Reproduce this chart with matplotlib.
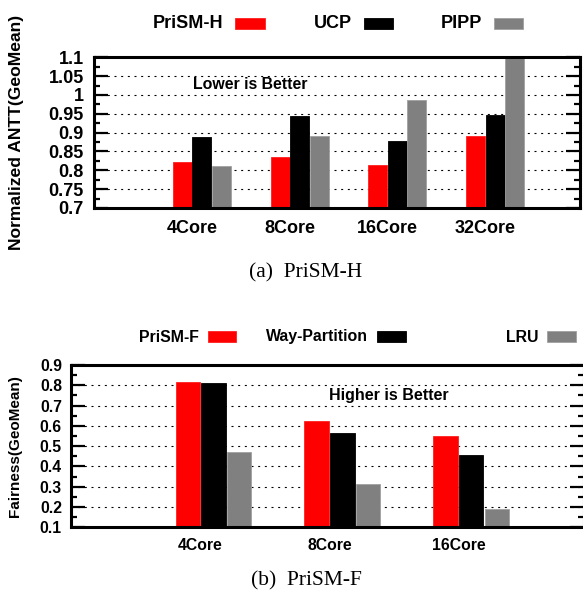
import matplotlib
matplotlib.use("Agg")
import matplotlib.pyplot as plt
from matplotlib.patches import Rectangle
from matplotlib.ticker import MultipleLocator
import numpy as np

# ---------------- data ----------------
h_categories = ["4Core", "8Core", "16Core", "32Core"]
h_series = ["PriSM-H", "UCP", "PIPP"]
h_prism = [0.821, 0.836, 0.814, 0.890]
h_ucp = [0.889, 0.943, 0.878, 0.948]
h_pipp = [0.811, 0.892, 0.987, 1.12]

f_categories = ["4Core", "8Core", "16Core"]
f_series = ["PriSM-F", "Way-Partition", "LRU"]
f_prism = [0.815, 0.624, 0.551]
f_way = [0.811, 0.563, 0.455]
f_lru = [0.473, 0.313, 0.189]

colors = ["#ff0000", "#000000", "#808080"]
edge_colors = ["#ff2020", "#000000", "#a0a0a0"]

plt.rcParams["font.family"] = ["Liberation Sans", "DejaVu Sans"]
plt.rcParams["font.weight"] = "bold"

W, H = 583, 596
fig = plt.figure(figsize=(W / 100, H / 100), dpi=100)


def px_box(left, top, right, bottom):
    return [left / W, 1 - bottom / H, (right - left) / W, (bottom - top) / H]


def style_axes(ax, ylo, yhi, major, minor, fs, ylabel, ylabel_fs, lab_x, tick_pad, xpad):
    ax.set_ylim(ylo, yhi)
    ax.yaxis.set_major_locator(MultipleLocator(major))
    ax.yaxis.set_minor_locator(MultipleLocator(minor))
    ax.tick_params(axis="y", which="both", direction="in", left=True, right=True,
                   width=1.6, labelsize=fs, pad=tick_pad)
    ax.tick_params(axis="y", which="major", length=10)
    ax.tick_params(axis="y", which="minor", length=4.5)
    ax.tick_params(axis="x", which="both", length=0, labelsize=fs, pad=xpad)
    for lab in ax.get_yticklabels() + ax.get_xticklabels():
        lab.set_fontweight("bold")
    for s in ax.spines.values():
        s.set_linewidth(2.2)
    grid_vals = np.arange(ylo + major, yhi - major / 2, major)
    for g in grid_vals:
        ax.axhline(g, color="black", lw=0.8, linestyle=(0, (1.8, 4.2)), zorder=0.5)
    ax.set_axisbelow(True)
    ax.set_ylabel(ylabel, fontsize=ylabel_fs, fontweight="bold", va="center")
    ax.yaxis.set_label_coords(lab_x, 0.5)


def fmt_tick(v):
    return ("%.2f" % v).rstrip("0").rstrip(".")


# ---------------- top chart ----------------
ax1 = fig.add_axes(px_box(94.3, 57.3, 579.5, 208.0))
x1 = np.arange(len(h_categories))
bw1 = 0.195
off1 = 0.2
for k, (vals, c, ec) in enumerate(zip([h_prism, h_ucp, h_pipp], colors, edge_colors)):
    ax1.bar(x1 + (k - 1) * off1, vals, width=bw1, color=c, edgecolor=ec, linewidth=0.6,
            zorder=2)
ax1.set_xlim(-1.102, 3.864)
ax1.set_xticks(x1 - 0.1)
ax1.set_xticklabels(h_categories)
style_axes(ax1, 0.7, 1.1, 0.05, 0.025, 13, "Normalized ANTT(GeoMean)", 12.6,
           (17 - 94.3) / (579.5 - 94.3), 7.5, 8.5)
ax1.yaxis.set_major_formatter(matplotlib.ticker.FuncFormatter(lambda v, p: fmt_tick(v)))
ax1.text(0.496, 1.0265, "Lower is Better", ha="center", va="center",
         fontsize=11.4, fontweight="bold", zorder=3)

# legend top (gnuplot style: text then box)
leg1_text_right = [223.3, 352.0, 481.7]
for name, c, ec, xr in zip(h_series, colors, edge_colors, leg1_text_right):
    fig.text(xr / W, 1 - 23.5 / H, name, ha="right", va="center", fontsize=13,
             fontweight="bold")
    fig.patches.append(Rectangle(((xr + 12) / W, 1 - 29.3 / H), 29.3 / W, 11 / H,
                                 transform=fig.transFigure, facecolor=c, edgecolor=ec,
                                 linewidth=0.6))

fig.text(306 / W, 1 - 272.7 / H, "(a)  PriSM-H", ha="center", va="center",
         fontsize=15.5, fontfamily=["Liberation Serif", "DejaVu Serif"], fontweight="normal")

# ---------------- bottom chart ----------------
ax2 = fig.add_axes(px_box(71.0, 365.0, 584.0, 527.3))
x2 = np.arange(len(f_categories))
bw2 = 0.19
off2 = 0.199
for k, (vals, c, ec) in enumerate(zip([f_prism, f_way, f_lru], colors, edge_colors)):
    ax2.bar(x2 + (k - 1) * off2, vals, width=bw2, color=c, edgecolor=ec, linewidth=0.6,
            zorder=2)
ax2.set_xlim(-1.105, 2.875)
ax2.set_xticks(x2 - 0.1)
ax2.set_xticklabels(f_categories)
style_axes(ax2, 0.1, 0.9, 0.1, 0.05, 11.3, "Fairness(GeoMean)", 11.0,
           (15 - 71.0) / (584.0 - 71.0), 6.5, 7.5)
ax2.yaxis.set_major_formatter(matplotlib.ticker.FuncFormatter(lambda v, p: "%.1f" % v))
ax2.text(1.3626, 0.7486, "Higher is Better", ha="center", va="center",
         fontsize=11.5, fontweight="bold", zorder=3)

leg2_text_right = [198.7, 368.3, 538.3]
for name, c, ec, xr in zip(f_series, colors, edge_colors, leg2_text_right):
    fig.text(xr / W, 1 - 337 / H, name, ha="right", va="center", fontsize=11.4,
             fontweight="bold")
    fig.patches.append(Rectangle(((xr + 9) / W, 1 - 342.3 / H), 28.3 / W, 11.3 / H,
                                 transform=fig.transFigure, facecolor=c, edgecolor=ec,
                                 linewidth=0.6))

fig.text(306 / W, 1 - 580.7 / H, "(b)  PriSM-F", ha="center", va="center",
         fontsize=15.5, fontfamily=["Liberation Serif", "DejaVu Serif"], fontweight="normal")

fig.savefig("out.png", dpi=100)
